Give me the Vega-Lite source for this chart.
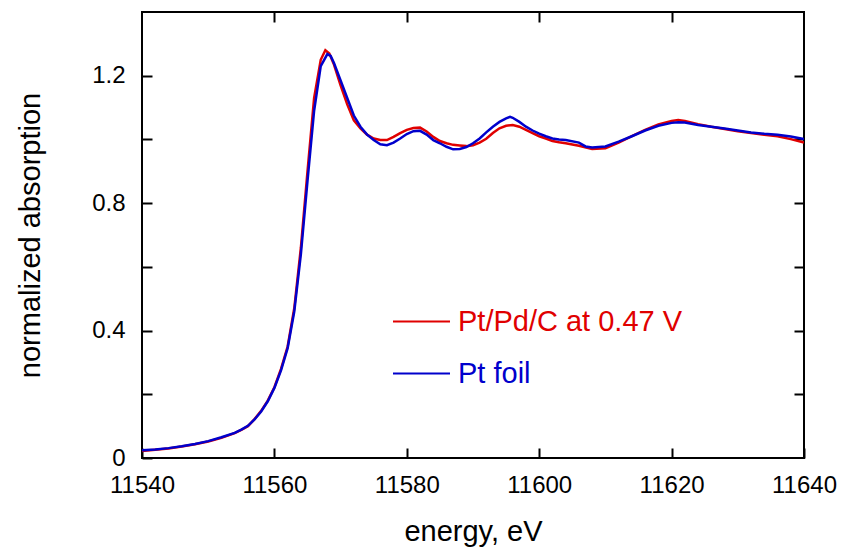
{
  "$schema": "https://vega.github.io/schema/vega-lite/v6.json",
  "autosize": {"type": "none"},
  "width": 662,
  "height": 446,
  "padding": {"left": 142, "top": 12, "right": 37, "bottom": 90},
  "background": "white",
  "config": {
    "view": {"stroke": "black", "strokeWidth": 2},
    "font": "Liberation Sans",
    "axis": {"domain": false, "grid": false, "tickColor": "black", "tickWidth": 2, "tickSize": -10, "labelFont": "Liberation Sans", "labelFontSize": 24, "labelColor": "black", "titleFont": "Liberation Sans", "titleFontSize": 29, "titleFontWeight": "normal", "titleColor": "black"}
  },
  "data": {"values": [
    {"series": "Pt/Pd/C at 0.47 V", "energy": 11540, "absorption": 0.022},
    {"series": "Pt/Pd/C at 0.47 V", "energy": 11542, "absorption": 0.026},
    {"series": "Pt/Pd/C at 0.47 V", "energy": 11544, "absorption": 0.030},
    {"series": "Pt/Pd/C at 0.47 V", "energy": 11546, "absorption": 0.036},
    {"series": "Pt/Pd/C at 0.47 V", "energy": 11548, "absorption": 0.043},
    {"series": "Pt/Pd/C at 0.47 V", "energy": 11550, "absorption": 0.052},
    {"series": "Pt/Pd/C at 0.47 V", "energy": 11552, "absorption": 0.063},
    {"series": "Pt/Pd/C at 0.47 V", "energy": 11554, "absorption": 0.078},
    {"series": "Pt/Pd/C at 0.47 V", "energy": 11555, "absorption": 0.088},
    {"series": "Pt/Pd/C at 0.47 V", "energy": 11556, "absorption": 0.100},
    {"series": "Pt/Pd/C at 0.47 V", "energy": 11557, "absorption": 0.122},
    {"series": "Pt/Pd/C at 0.47 V", "energy": 11558, "absorption": 0.148},
    {"series": "Pt/Pd/C at 0.47 V", "energy": 11559, "absorption": 0.180},
    {"series": "Pt/Pd/C at 0.47 V", "energy": 11560, "absorption": 0.222},
    {"series": "Pt/Pd/C at 0.47 V", "energy": 11561, "absorption": 0.28},
    {"series": "Pt/Pd/C at 0.47 V", "energy": 11562, "absorption": 0.35},
    {"series": "Pt/Pd/C at 0.47 V", "energy": 11563, "absorption": 0.47},
    {"series": "Pt/Pd/C at 0.47 V", "energy": 11564, "absorption": 0.66},
    {"series": "Pt/Pd/C at 0.47 V", "energy": 11565, "absorption": 0.90},
    {"series": "Pt/Pd/C at 0.47 V", "energy": 11566, "absorption": 1.13},
    {"series": "Pt/Pd/C at 0.47 V", "energy": 11567, "absorption": 1.25},
    {"series": "Pt/Pd/C at 0.47 V", "energy": 11567.7, "absorption": 1.28},
    {"series": "Pt/Pd/C at 0.47 V", "energy": 11568.3, "absorption": 1.27},
    {"series": "Pt/Pd/C at 0.47 V", "energy": 11569, "absorption": 1.235},
    {"series": "Pt/Pd/C at 0.47 V", "energy": 11570, "absorption": 1.17},
    {"series": "Pt/Pd/C at 0.47 V", "energy": 11571, "absorption": 1.11},
    {"series": "Pt/Pd/C at 0.47 V", "energy": 11572, "absorption": 1.06},
    {"series": "Pt/Pd/C at 0.47 V", "energy": 11573, "absorption": 1.035},
    {"series": "Pt/Pd/C at 0.47 V", "energy": 11574, "absorption": 1.015},
    {"series": "Pt/Pd/C at 0.47 V", "energy": 11575, "absorption": 1.003},
    {"series": "Pt/Pd/C at 0.47 V", "energy": 11576, "absorption": 0.998},
    {"series": "Pt/Pd/C at 0.47 V", "energy": 11577, "absorption": 0.998},
    {"series": "Pt/Pd/C at 0.47 V", "energy": 11578, "absorption": 1.008},
    {"series": "Pt/Pd/C at 0.47 V", "energy": 11579, "absorption": 1.02},
    {"series": "Pt/Pd/C at 0.47 V", "energy": 11580, "absorption": 1.03},
    {"series": "Pt/Pd/C at 0.47 V", "energy": 11581, "absorption": 1.036},
    {"series": "Pt/Pd/C at 0.47 V", "energy": 11582, "absorption": 1.037},
    {"series": "Pt/Pd/C at 0.47 V", "energy": 11583, "absorption": 1.025},
    {"series": "Pt/Pd/C at 0.47 V", "energy": 11584, "absorption": 1.008},
    {"series": "Pt/Pd/C at 0.47 V", "energy": 11585, "absorption": 0.995},
    {"series": "Pt/Pd/C at 0.47 V", "energy": 11586, "absorption": 0.988},
    {"series": "Pt/Pd/C at 0.47 V", "energy": 11587, "absorption": 0.983},
    {"series": "Pt/Pd/C at 0.47 V", "energy": 11588, "absorption": 0.981},
    {"series": "Pt/Pd/C at 0.47 V", "energy": 11589, "absorption": 0.979},
    {"series": "Pt/Pd/C at 0.47 V", "energy": 11590, "absorption": 0.982},
    {"series": "Pt/Pd/C at 0.47 V", "energy": 11591, "absorption": 0.99},
    {"series": "Pt/Pd/C at 0.47 V", "energy": 11592, "absorption": 1.002},
    {"series": "Pt/Pd/C at 0.47 V", "energy": 11593, "absorption": 1.02},
    {"series": "Pt/Pd/C at 0.47 V", "energy": 11594, "absorption": 1.035},
    {"series": "Pt/Pd/C at 0.47 V", "energy": 11595, "absorption": 1.043},
    {"series": "Pt/Pd/C at 0.47 V", "energy": 11596, "absorption": 1.045},
    {"series": "Pt/Pd/C at 0.47 V", "energy": 11597, "absorption": 1.04},
    {"series": "Pt/Pd/C at 0.47 V", "energy": 11598, "absorption": 1.03},
    {"series": "Pt/Pd/C at 0.47 V", "energy": 11599, "absorption": 1.02},
    {"series": "Pt/Pd/C at 0.47 V", "energy": 11600, "absorption": 1.01},
    {"series": "Pt/Pd/C at 0.47 V", "energy": 11601, "absorption": 1.003},
    {"series": "Pt/Pd/C at 0.47 V", "energy": 11602, "absorption": 0.995},
    {"series": "Pt/Pd/C at 0.47 V", "energy": 11603, "absorption": 0.991},
    {"series": "Pt/Pd/C at 0.47 V", "energy": 11604, "absorption": 0.988},
    {"series": "Pt/Pd/C at 0.47 V", "energy": 11606, "absorption": 0.98},
    {"series": "Pt/Pd/C at 0.47 V", "energy": 11608, "absorption": 0.97},
    {"series": "Pt/Pd/C at 0.47 V", "energy": 11610, "absorption": 0.972},
    {"series": "Pt/Pd/C at 0.47 V", "energy": 11612, "absorption": 0.99},
    {"series": "Pt/Pd/C at 0.47 V", "energy": 11614, "absorption": 1.01},
    {"series": "Pt/Pd/C at 0.47 V", "energy": 11616, "absorption": 1.03},
    {"series": "Pt/Pd/C at 0.47 V", "energy": 11618, "absorption": 1.047},
    {"series": "Pt/Pd/C at 0.47 V", "energy": 11620, "absorption": 1.058},
    {"series": "Pt/Pd/C at 0.47 V", "energy": 11621, "absorption": 1.061},
    {"series": "Pt/Pd/C at 0.47 V", "energy": 11622, "absorption": 1.058},
    {"series": "Pt/Pd/C at 0.47 V", "energy": 11624, "absorption": 1.048},
    {"series": "Pt/Pd/C at 0.47 V", "energy": 11626, "absorption": 1.04},
    {"series": "Pt/Pd/C at 0.47 V", "energy": 11628, "absorption": 1.033},
    {"series": "Pt/Pd/C at 0.47 V", "energy": 11630, "absorption": 1.026},
    {"series": "Pt/Pd/C at 0.47 V", "energy": 11632, "absorption": 1.02},
    {"series": "Pt/Pd/C at 0.47 V", "energy": 11634, "absorption": 1.015},
    {"series": "Pt/Pd/C at 0.47 V", "energy": 11636, "absorption": 1.01},
    {"series": "Pt/Pd/C at 0.47 V", "energy": 11638, "absorption": 1.001},
    {"series": "Pt/Pd/C at 0.47 V", "energy": 11640, "absorption": 0.99},
    {"series": "Pt foil", "energy": 11540, "absorption": 0.024},
    {"series": "Pt foil", "energy": 11542, "absorption": 0.027},
    {"series": "Pt foil", "energy": 11544, "absorption": 0.031},
    {"series": "Pt foil", "energy": 11546, "absorption": 0.037},
    {"series": "Pt foil", "energy": 11548, "absorption": 0.044},
    {"series": "Pt foil", "energy": 11550, "absorption": 0.053},
    {"series": "Pt foil", "energy": 11552, "absorption": 0.065},
    {"series": "Pt foil", "energy": 11554, "absorption": 0.079},
    {"series": "Pt foil", "energy": 11555, "absorption": 0.089},
    {"series": "Pt foil", "energy": 11556, "absorption": 0.101},
    {"series": "Pt foil", "energy": 11557, "absorption": 0.121},
    {"series": "Pt foil", "energy": 11558, "absorption": 0.146},
    {"series": "Pt foil", "energy": 11559, "absorption": 0.178},
    {"series": "Pt foil", "energy": 11560, "absorption": 0.22},
    {"series": "Pt foil", "energy": 11561, "absorption": 0.275},
    {"series": "Pt foil", "energy": 11562, "absorption": 0.345},
    {"series": "Pt foil", "energy": 11563, "absorption": 0.46},
    {"series": "Pt foil", "energy": 11564, "absorption": 0.64},
    {"series": "Pt foil", "energy": 11565, "absorption": 0.87},
    {"series": "Pt foil", "energy": 11566, "absorption": 1.09},
    {"series": "Pt foil", "energy": 11567, "absorption": 1.23},
    {"series": "Pt foil", "energy": 11568, "absorption": 1.268},
    {"series": "Pt foil", "energy": 11568.5, "absorption": 1.262},
    {"series": "Pt foil", "energy": 11569, "absorption": 1.24},
    {"series": "Pt foil", "energy": 11570, "absorption": 1.185},
    {"series": "Pt foil", "energy": 11571, "absorption": 1.13},
    {"series": "Pt foil", "energy": 11572, "absorption": 1.075},
    {"series": "Pt foil", "energy": 11573, "absorption": 1.04},
    {"series": "Pt foil", "energy": 11574, "absorption": 1.015},
    {"series": "Pt foil", "energy": 11575, "absorption": 0.998},
    {"series": "Pt foil", "energy": 11576, "absorption": 0.985},
    {"series": "Pt foil", "energy": 11577, "absorption": 0.982},
    {"series": "Pt foil", "energy": 11578, "absorption": 0.99},
    {"series": "Pt foil", "energy": 11579, "absorption": 1.003},
    {"series": "Pt foil", "energy": 11580, "absorption": 1.017},
    {"series": "Pt foil", "energy": 11581, "absorption": 1.026},
    {"series": "Pt foil", "energy": 11582, "absorption": 1.027},
    {"series": "Pt foil", "energy": 11583, "absorption": 1.015},
    {"series": "Pt foil", "energy": 11584, "absorption": 0.998},
    {"series": "Pt foil", "energy": 11585, "absorption": 0.988},
    {"series": "Pt foil", "energy": 11586, "absorption": 0.977},
    {"series": "Pt foil", "energy": 11587, "absorption": 0.969},
    {"series": "Pt foil", "energy": 11588, "absorption": 0.97},
    {"series": "Pt foil", "energy": 11589, "absorption": 0.976},
    {"series": "Pt foil", "energy": 11590, "absorption": 0.988},
    {"series": "Pt foil", "energy": 11591, "absorption": 1.003},
    {"series": "Pt foil", "energy": 11592, "absorption": 1.022},
    {"series": "Pt foil", "energy": 11593, "absorption": 1.04},
    {"series": "Pt foil", "energy": 11594, "absorption": 1.055},
    {"series": "Pt foil", "energy": 11595, "absorption": 1.066},
    {"series": "Pt foil", "energy": 11595.6, "absorption": 1.071},
    {"series": "Pt foil", "energy": 11596, "absorption": 1.068},
    {"series": "Pt foil", "energy": 11597, "absorption": 1.055},
    {"series": "Pt foil", "energy": 11598, "absorption": 1.04},
    {"series": "Pt foil", "energy": 11599, "absorption": 1.028},
    {"series": "Pt foil", "energy": 11600, "absorption": 1.018},
    {"series": "Pt foil", "energy": 11601, "absorption": 1.01},
    {"series": "Pt foil", "energy": 11602, "absorption": 1.003},
    {"series": "Pt foil", "energy": 11603, "absorption": 1.0},
    {"series": "Pt foil", "energy": 11604, "absorption": 0.998},
    {"series": "Pt foil", "energy": 11606, "absorption": 0.99},
    {"series": "Pt foil", "energy": 11607, "absorption": 0.978},
    {"series": "Pt foil", "energy": 11608, "absorption": 0.975},
    {"series": "Pt foil", "energy": 11610, "absorption": 0.978},
    {"series": "Pt foil", "energy": 11612, "absorption": 0.993},
    {"series": "Pt foil", "energy": 11614, "absorption": 1.01},
    {"series": "Pt foil", "energy": 11616, "absorption": 1.028},
    {"series": "Pt foil", "energy": 11618, "absorption": 1.043},
    {"series": "Pt foil", "energy": 11620, "absorption": 1.052},
    {"series": "Pt foil", "energy": 11621, "absorption": 1.054},
    {"series": "Pt foil", "energy": 11622, "absorption": 1.053},
    {"series": "Pt foil", "energy": 11624, "absorption": 1.045},
    {"series": "Pt foil", "energy": 11626, "absorption": 1.04},
    {"series": "Pt foil", "energy": 11628, "absorption": 1.034},
    {"series": "Pt foil", "energy": 11630, "absorption": 1.028},
    {"series": "Pt foil", "energy": 11632, "absorption": 1.022},
    {"series": "Pt foil", "energy": 11634, "absorption": 1.018},
    {"series": "Pt foil", "energy": 11636, "absorption": 1.015},
    {"series": "Pt foil", "energy": 11638, "absorption": 1.009},
    {"series": "Pt foil", "energy": 11640, "absorption": 1.001}
  ]},
  "layer": [
    {
      "transform": [{"filter": "datum.series === 'Pt/Pd/C at 0.47 V'"}],
      "mark": {"type": "line", "strokeWidth": 2.5, "clip": true},
      "encoding": {
        "x": {"field": "energy", "type": "quantitative", "scale": {"domain": [11540, 11640], "nice": false, "zero": false},
              "axis": {"orient": "bottom", "values": [11540, 11560, 11580, 11600, 11620, 11640], "format": "d", "labelFontSize": 24, "labelFont": "Liberation Sans", "labelPadding": 25, "title": "energy, eV", "titleFontSize": 29, "titlePadding": 20, "labelFlush": false}},
        "y": {"field": "absorption", "type": "quantitative", "scale": {"domain": [0, 1.4], "nice": false},
              "axis": {"orient": "left", "values": [0, 0.2, 0.4, 0.6, 0.8, 1.0, 1.2], "labelExpr": "datum.value == 0 ? '0' : (round(datum.value * 10) % 4 == 0 ? format(datum.value, '.1f') : '')", "labelFontSize": 24, "labelFont": "Liberation Sans", "labelPadding": 27, "title": "normalized absorption", "titleFontSize": 29, "titlePadding": 46, "labelFlush": false}},
        "color": {"field": "series", "type": "nominal",
                  "scale": {"domain": ["Pt/Pd/C at 0.47 V", "Pt foil"], "range": ["#e00000", "#0000cc"]},
                  "legend": {"orient": "none", "legendX": 250, "legendY": 280, "title": null, "symbolType": "stroke", "symbolSize": 3249, "symbolStrokeWidth": 2, "labelFontSize": 29, "labelFont": "Liberation Sans", "labelLimit": 0, "labelOffset": 7, "rowPadding": 7,
                             "encode": {"labels": {"update": {"fill": {"scale": "color", "field": "value"}}}}}}
      }
    },
    {
      "transform": [{"filter": "datum.series === 'Pt foil'"}],
      "mark": {"type": "line", "strokeWidth": 2.5, "clip": true},
      "encoding": {
        "x": {"field": "energy", "type": "quantitative", "scale": {"domain": [11540, 11640], "nice": false, "zero": false},
              "axis": {"orient": "top", "values": [11560, 11580, 11600, 11620], "labels": false, "title": null}},
        "y": {"field": "absorption", "type": "quantitative", "scale": {"domain": [0, 1.4], "nice": false},
              "axis": {"orient": "right", "values": [0.2, 0.4, 0.6, 0.8, 1.0, 1.2], "labels": false, "title": null}},
        "color": {"field": "series", "type": "nominal"}
      }
    }
  ],
  "resolve": {"axis": {"x": "independent", "y": "independent"}}
}
